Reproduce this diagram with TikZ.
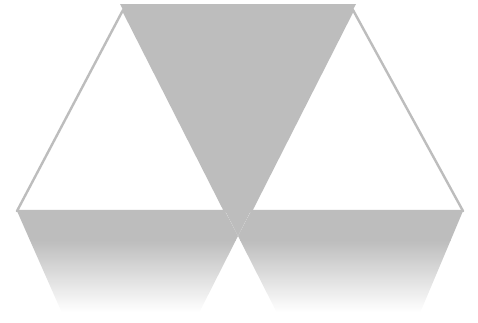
\documentclass[tikz,border=0pt]{standalone}
\usepackage{tikz}
\usetikzlibrary{calc}
\definecolor{hexgray}{gray}{0.74}
\tikzset{
  darktri/.style={fill=hexgray,draw=none},
  lighttri/.style={fill=white,draw=hexgray,line width=2.4pt,line join=round},
  fadeband/.style={draw=none,top color=hexgray,middle color=hexgray!70,bottom color=white}
}

\begin{document}
\begin{tikzpicture}[x=1pt,y=-1pt]
  \useasboundingbox (0,0) rectangle (478,322);
  % corners of the figure
  \coordinate (tl) at (120,4);
  \coordinate (tr) at (356,4);
  \coordinate (x) at (238,236);
  \coordinate (lapex) at (123,10);
  \coordinate (rapex) at (353,10);
  \coordinate (lft) at (17,211);
  \coordinate (rgt) at (463,211);
  \coordinate (lin) at (225,211);
  \coordinate (rin) at (251,211);
  \coordinate (lbo) at (62,313);
  \coordinate (lbi) at (199,313);
  \coordinate (rbi) at (277,313);
  \coordinate (rbo) at (420,313);

  % dark triangle on top
  \fill[darktri] (tl) -- (tr) -- (x) -- cycle;
  % fading lower parts
  \begin{scope}
    \clip (lft) -- (lin) -- (x) -- (lbi) -- (lbo) -- cycle
          (rin) -- (rgt) -- (rbo) -- (rbi) -- (x) -- cycle;
    \fill[darktri] (0,209) rectangle (478,241);
    \shade[fadeband] (0,240) rectangle (478,312);
  \end{scope}
  % white triangles
  \draw[lighttri] (lapex) -- (lft) -- (lin) -- cycle;
  \draw[lighttri] (rapex) -- (rin) -- (rgt) -- cycle;
\end{tikzpicture}
\end{document}
